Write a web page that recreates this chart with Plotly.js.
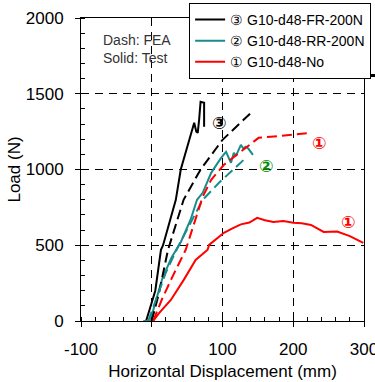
<!DOCTYPE html>
<html><head><meta charset="utf-8">
<script src="https://cdn.plot.ly/plotly-3.0.1.min.js"></script>
<style>body{margin:0;background:#fff}#c{width:375px;height:382px}</style>
</head><body><div id="c"></div>
<script>
// ③ FR-200N
const frTestX = [-8, 5, 13, 16, 25, 34, 41, 53, 60, 63, 65, 67, 69, 74, 74];
const frTestY = [0, 200, 470, 500, 650, 800, 1000, 1196, 1308, 1250, 1242, 1330, 1447, 1440, 1282];
const frFeaX = [0, 10, 23, 45, 69, 100, 140];
const frFeaY = [0, 180, 470, 800, 1000, 1196, 1373];
// ② RR-200N
const rrTestX = [-12, -2, 5, 15, 28, 36, 41, 55, 64, 72, 84, 98, 105, 112, 116, 119, 126, 129, 133, 137, 143];
const rrTestY = [0, 0, 120, 280, 420, 480, 520, 670, 800, 846, 978, 1077, 1117, 1044, 1110, 1090, 1163, 1140, 1150, 1135, 1097];
const rrFeaX = [-5, 8, 20, 36, 55, 72, 95, 130];
const rrFeaY = [0, 170, 320, 480, 650, 800, 912, 1064];
// ① No
const noTestX = [2, 10, 27, 45, 62, 75, 79, 81, 92, 102, 114, 126, 138, 149, 160, 172, 186, 200, 212, 225, 243, 262, 280, 299];
const noTestY = [0, 50, 139, 270, 403, 450, 470, 502, 545, 582, 612, 638, 650, 681, 665, 654, 660, 648, 645, 634, 588, 590, 560, 515];
const noFeaX = [2, 15, 30, 48, 72, 84, 102, 130, 151, 168, 225];
const noFeaY = [0, 150, 300, 470, 820, 932, 1031, 1130, 1209, 1216, 1242];

const xTicks = [-100, 0, 100, 200, 300];
const xTickText = ['-100', '0', '100', '200', '300'];
const yTicks = [0, 500, 1000, 1500, 2000];

const legendNames = ['③ G10-d48-FR-200N', '② G10-d48-RR-200N', '① G10-d48-No'];
const colors = ['#000000', '#1a8c8c', '#ff0000'];

const dashP = '10px,5px';
const traces = [
  {x: frTestX, y: frTestY, name: legendNames[0], mode: 'lines', line: {color: colors[0], width: 2}},
  {x: rrTestX, y: rrTestY, name: legendNames[1], mode: 'lines', line: {color: colors[1], width: 2}},
  {x: noTestX, y: noTestY, name: legendNames[2], mode: 'lines', line: {color: colors[2], width: 2}},
  {x: frFeaX, y: frFeaY, showlegend: false, mode: 'lines', line: {color: colors[0], width: 2, dash: dashP}},
  {x: rrFeaX, y: rrFeaY, showlegend: false, mode: 'lines', line: {color: colors[1], width: 2, dash: dashP}},
  {x: noFeaX, y: noFeaY, showlegend: false, mode: 'lines', line: {color: colors[2], width: 2, dash: dashP}}
];

const F = 'Liberation Sans, Arial, sans-serif';
const ann = (x, y, t, c) => ({x, y, xref: 'x', yref: 'y', text: '<b>' + t + '</b>', showarrow: false, font: {family: 'DejaVu Sans', size: 17, color: c}});

const layout = {
  width: 375, height: 382,
  margin: {l: 81, r: 11, t: 18, b: 61, autoexpand: false},
  paper_bgcolor: '#fff', plot_bgcolor: '#fff',
  showlegend: true,
  legend: {x: 0.382, y: 1.05, xanchor: 'left', yanchor: 'top',
           bgcolor: '#fff', bordercolor: '#000', borderwidth: 1,
           font: {family: F, size: 14, color: '#000'}, tracegroupgap: 0, itemwidth: 30},
  xaxis: {range: [-100, 300], tickvals: xTicks, ticktext: xTickText, showline: true, linecolor: '#000', linewidth: 1, mirror: true,
          ticks: 'outside', ticklen: 5, tickcolor: '#000', showgrid: true, gridcolor: '#000', griddash: '8px,6px', gridwidth: 1,
          zeroline: false, tickfont: {family: F, size: 17, color: '#000'}, tickangle: 0, automargin: false,
          ticklabelstandoff: 8, ticklabeloverflow: 'allow',
          minor: {dtick: 20, ticks: 'inside', ticklen: 4, tickcolor: '#000', showgrid: false},
          title: {text: 'Horizontal Displacement (mm)', font: {family: F, size: 17, color: '#000'}, standoff: 6}},
  yaxis: {range: [0, 2000], tickvals: yTicks, showline: true, linecolor: '#000', linewidth: 1, mirror: true,
          ticks: 'outside', ticklen: 5, tickcolor: '#000', showgrid: true, gridcolor: '#000', griddash: '8px,6px', gridwidth: 1,
          zeroline: false, tickfont: {family: F, size: 17, color: '#000'}, automargin: false,
          ticklabelstandoff: 8, ticklabeloverflow: 'allow',
          minor: {dtick: 100, ticks: 'inside', ticklen: 4, tickcolor: '#000', showgrid: false},
          title: {text: 'Load (N)', font: {family: F, size: 17, color: '#000'}, standoff: 0}},
  annotations: [
    {x: 0.07, y: 0.96, xref: 'paper', yref: 'paper', xanchor: 'left', yanchor: 'top', align: 'left', showarrow: false,
     text: 'Dash: FEA<br>Solid: Test', font: {family: F, size: 14, color: '#333'}},
    ann(95, 1308, '③', '#000'),
    ann(161, 1024, '②', '#0a8a0a'),
    ann(236, 1176, '①', '#ff0000'),
    ann(278, 654, '①', '#ff0000')
  ],
  shapes: [
    {type: 'line', xref: 'paper', yref: 'paper', x0: 0.392, x1: 1.05, y0: 0.81, y1: 0.81, line: {color: '#000', width: 3}}
  ]
};
Plotly.newPlot('c', traces, layout, {displayModeBar: false, staticPlot: true});
</script></body></html>
